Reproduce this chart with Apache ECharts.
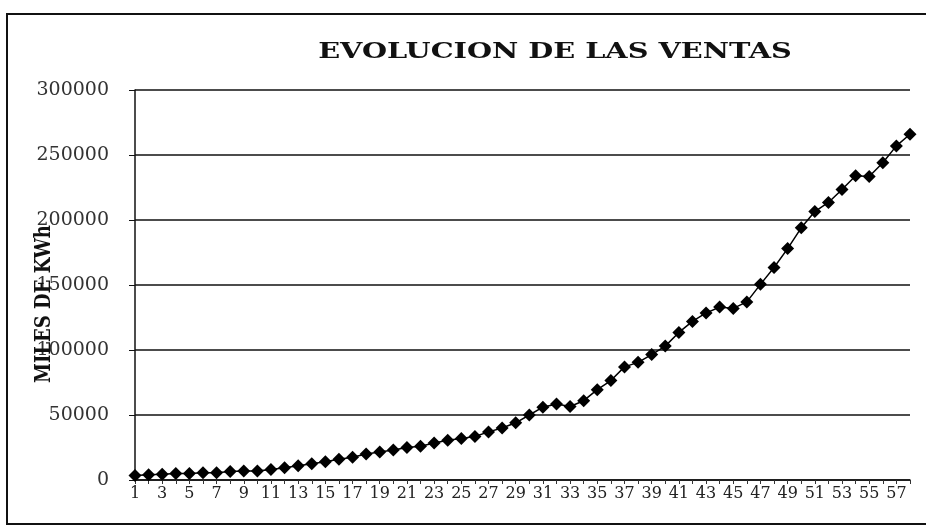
<!DOCTYPE html>
<html>
<head>
<meta charset="utf-8">
<script src="https://cdn.jsdelivr.net/npm/echarts@6/dist/echarts.min.js"></script>
<style>html,body{margin:0;padding:0;background:#fff;}#c{width:926px;height:526px;}</style>
</head>
<body>
<div id="c"></div>
<script>
var title = "EVOLUCION DE LAS VENTAS";
var yName = "MILES DE KWh";
var categories = [];
for (var i = 1; i <= 58; i++) categories.push(String(i));
var ventas = [3500, 4000, 4500, 5000, 5000, 5500, 5500, 6500, 7000, 7000,
  8000, 9500, 11000, 12500, 14000, 16000, 17500, 20000, 21500, 23000,
  25000, 26000, 28500, 30500, 32000, 33500, 37000, 40000, 44000, 50000,
  56000, 58500, 56500, 61000, 69500, 76500, 87000, 90500, 96500, 103000,
  113500, 122000, 128500, 133000, 132000, 137000, 150500, 163500, 178000, 194000,
  206500, 213500, 223500, 234000, 233500, 244000, 257000, 266000];
var yTicks = [0, 50000, 100000, 150000, 200000, 250000, 300000];

var chart = echarts.init(document.getElementById('c'));
chart.setOption({
  animation: false,
  backgroundColor: '#fff',
  graphic: [
    {type: 'rect', shape: {x: 7, y: 14, width: 940, height: 510}, style: {fill: 'none', stroke: '#111', lineWidth: 2}, silent: true},
    {type: 'text', x: 555, y: 52, scaleX: 1.25, z: 10,
      style: {text: title, fontFamily: 'DejaVu Serif', fontWeight: 'bold', fontSize: 23, fill: '#111', textAlign: 'center', textVerticalAlign: 'middle'}},
    {type: 'text', x: 44, y: 304, rotation: Math.PI / 2, scaleY: 1.2, z: 10,
      style: {text: yName, fontFamily: 'DejaVu Serif', fontWeight: 'bold', fontSize: 18, fill: '#111', textAlign: 'center', textVerticalAlign: 'middle'}}
  ],
  grid: {left: 135, right: 16, top: 90, bottom: 46},
  xAxis: {
    type: 'category', data: categories, boundaryGap: false,
    axisLine: {lineStyle: {color: '#111', width: 1.5}},
    axisTick: {show: true, interval: 0, length: 4, lineStyle: {color: '#333'}},
    axisLabel: {interval: 1, fontFamily: 'DejaVu Serif', fontSize: 16, color: '#222', margin: 6}
  },
  yAxis: {
    type: 'value', min: yTicks[0], max: yTicks[yTicks.length - 1], interval: 50000,
    axisLine: {show: true, lineStyle: {color: '#111', width: 1.5}},
    axisTick: {show: true, length: 6, lineStyle: {color: '#111'}},
    axisLabel: {fontFamily: 'DejaVu Serif', fontSize: 19, color: '#333', margin: 26,
      formatter: function (v) { return String(v); }},
    splitLine: {lineStyle: {color: '#111', width: 1.5}}
  },
  series: [{
    type: 'line', data: ventas,
    symbol: 'diamond', symbolSize: 13, showAllSymbol: true,
    itemStyle: {color: '#000'},
    lineStyle: {color: '#000', width: 1.5}
  }]
});
</script>
</body>
</html>
